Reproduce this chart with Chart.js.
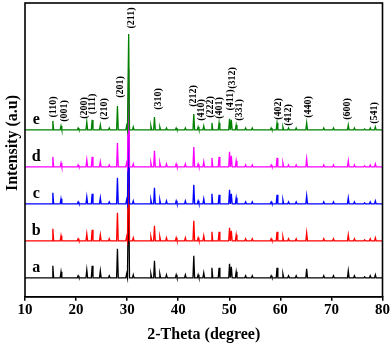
<!DOCTYPE html>
<html>
<head>
<meta charset="utf-8">
<script src="https://cdn.jsdelivr.net/npm/chart.js@4/dist/chart.umd.min.js"></script>
<style>
  html, body { margin: 0; padding: 0; background: #fff; }
  #wrap { width: 390px; height: 344px; position: relative; }
</style>
</head>
<body>
<div id="wrap"><canvas id="xrdChart"></canvas></div>
<script>
// Peak positions (2θ, degree)
const twoTheta = [15.45, 17.05, 20.4, 22.1, 23.15, 24.75, 26.5, 28.1, 29.9, 30.3,
                  31.2, 34.65, 35.35, 36.4, 37.7, 39.6, 41.4, 43.05, 43.9, 45.0,
                  46.6, 48.0, 50.05, 50.4, 51.35, 53.2, 54.5, 58.2, 59.35, 60.5,
                  61.6, 63.1, 65.15, 68.5, 70.4, 73.3, 74.5, 76.5, 77.6, 78.6];

// Peak intensities for each sample (a.u.)
const peaksA = [12, 6, 2, 8, 12, 7, 2, 29, 4, 100, 3, 4, 17, 4, 3, 3, 3, 22, 3, 5,
                10, 10, 14, 11, 6, 2, 2, 2, 10, 4, 2, 2, 9, 2, 2, 7, 2, 1, 2, 3];
const peaksB = [12, 5, 2, 7, 11, 6, 2, 28, 4, 100, 3, 4, 15, 4, 3, 3, 3, 20, 3, 5,
                9, 9, 13, 10, 6, 2, 2, 2, 9, 4, 2, 2, 8, 2, 2, 6, 2, 1, 2, 3];
const peaksC = [11, 5, 2, 7, 10, 6, 2, 26, 4, 98, 3, 4, 16, 4, 3, 3, 3, 19, 3, 5,
                10, 9, 14, 10, 6, 2, 2, 2, 9, 4, 2, 2, 8, 2, 2, 6, 2, 1, 2, 3];
const peaksD = [10, 4, 2, 7, 10, 5, 2, 24, 4, 98, 3, 4, 16, 4, 3, 3, 3, 20, 3, 5,
                9, 10, 15, 11, 6, 2, 2, 2, 9, 4, 2, 2, 8, 2, 2, 6, 2, 1, 2, 3];
const peaksE = [9, 4, 2, 8, 10, 5, 2, 24, 4, 96, 3, 4, 13, 3, 2, 2, 2, 16, 3, 4,
                7, 7, 11, 10, 5, 2, 2, 2, 7, 3, 2, 2, 7, 2, 2, 5, 2, 1, 2, 3];

const sampleNames = ['a', 'b', 'c', 'd', 'e'];
const sampleColors = ['#000000', '#ff0000', '#0000ff', '#ff00ff', '#008000'];
const sampleOffsets = [19, 56, 93, 130, 167];
const xTicks = [10, 20, 30, 40, 50, 60, 70, 80];

// Miller indices written above the top pattern
const hklLabels = [
  { text: '(110)', x: 15.53, y: 190 }, { text: '(001)', x: 17.68, y: 186 },
  { text: '(200)', x: 21.6, y: 189 },  { text: '(111)', x: 23.24, y: 193 },
  { text: '(210)', x: 25.64, y: 188 }, { text: '(201)', x: 28.71, y: 210 },
  { text: '(211)', x: 30.86, y: 279 }, { text: '(310)', x: 36.07, y: 198 },
  { text: '(212)', x: 42.91, y: 201 }, { text: '(410)', x: 44.55, y: 187 },
  { text: '(222)', x: 46.31, y: 190 }, { text: '(401)', x: 48.13, y: 189 },
  { text: '(411)', x: 50.28, y: 197 }, { text: '(312)', x: 50.67, y: 219 },
  { text: '(331)', x: 51.9, y: 187 },  { text: '(402)', x: 59.53, y: 188 },
  { text: '(412)', x: 61.49, y: 182 }, { text: '(440)', x: 65.4, y: 190 },
  { text: '(600)', x: 73.22, y: 188 }, { text: '(541)', x: 78.44, y: 184 },
];

const serif = "'Liberation Serif', 'Times New Roman', serif";
const halfWidth = 0.16;

function buildPattern(heights, offset) {
  const pts = [{ x: 10, y: offset }];
  twoTheta.forEach((t, i) => {
    pts.push({ x: t - halfWidth, y: offset });
    pts.push({ x: t, y: offset + heights[i] });
    pts.push({ x: t + halfWidth, y: offset });
  });
  pts.push({ x: 80, y: offset });
  return pts;
}

const allPeaks = [peaksA, peaksB, peaksC, peaksD, peaksE];

const datasets = sampleNames.map((name, i) => ({
  label: name,
  data: buildPattern(allPeaks[i], sampleOffsets[i]),
  borderColor: sampleColors[i],
  borderWidth: 1.3,
  pointRadius: 0,
  tension: 0,
  fill: false,
  order: sampleNames.length - 1 - i,
}));

// frame, hkl labels, sample letters and y title
const decorations = {
  id: 'decorations',
  afterDraw(chart) {
    const { ctx, chartArea, scales } = chart;
    ctx.save();
    ctx.strokeStyle = '#000';
    ctx.lineWidth = 1.6;
    ctx.strokeRect(chartArea.left, chartArea.top,
                   chartArea.right - chartArea.left, chartArea.bottom - chartArea.top);

    ctx.fillStyle = '#000';
    ctx.textAlign = 'center';
    ctx.textBaseline = 'middle';
    ctx.font = 'bold 10px ' + serif;
    hklLabels.forEach(l => {
      ctx.save();
      ctx.translate(scales.x.getPixelForValue(l.x), scales.y.getPixelForValue(l.y));
      ctx.rotate(-Math.PI / 2);
      ctx.fillText(l.text, 0, 0);
      ctx.restore();
    });

    ctx.font = 'bold 16px ' + serif;
    sampleNames.forEach((name, i) => {
      ctx.fillText(name, scales.x.getPixelForValue(12.2),
                   scales.y.getPixelForValue(sampleOffsets[i] + 10));
    });

    ctx.save();
    ctx.translate(13, 143);
    ctx.rotate(-Math.PI / 2);
    ctx.font = 'bold 16px ' + serif;
    ctx.fillText('Intensity (a.u)', 0, 0);
    ctx.restore();
    ctx.restore();
  }
};

const ctx = document.getElementById('xrdChart').getContext('2d');
const xrdChart = new Chart(ctx, {
  type: 'line',
  data: { datasets },
  plugins: [decorations],
  options: {
    responsive: true,
    maintainAspectRatio: false,
    animation: false,
    layout: { padding: { left: 25, right: 7, top: 3, bottom: 0 } },
    plugins: { legend: { display: false }, tooltip: { enabled: false } },
    scales: {
      x: {
        type: 'linear',
        min: 10,
        max: 80,
        afterBuildTicks: axis => { axis.ticks = xTicks.map(v => ({ value: v })); },
        grid: { display: true, drawOnChartArea: false, drawTicks: true, tickLength: 4, color: '#000', lineWidth: 1.5 },
        border: { display: true, color: '#000', width: 1.6 },
        ticks: { padding: 0, color: '#000', maxRotation: 0, font: { family: serif, size: 15, weight: 'bold' } },
        title: {
          display: true,
          text: '2-Theta (degree)',
          color: '#000',
          font: { family: serif, size: 16, weight: 'bold' },
          padding: { top: 6, bottom: 0 },
        },
      },
      y: {
        display: false,
        min: 0,
        max: 294,
      },
    },
  },
});
</script>
</body>
</html>
